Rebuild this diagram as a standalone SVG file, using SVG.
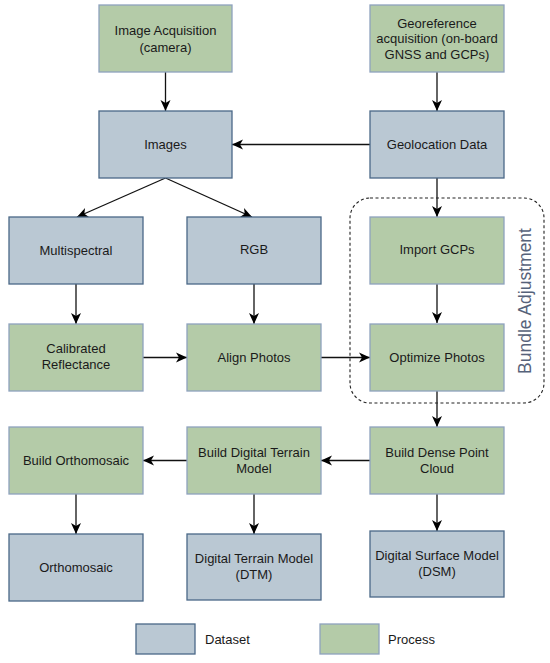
<svg xmlns="http://www.w3.org/2000/svg" width="550" height="663" viewBox="0 0 550 663">
<defs>
<style>
.ds{fill:#bac8d3;stroke:#4a6887;stroke-width:1.3}
.pr{fill:#b4cba8;stroke:#8ea2bd;stroke-width:1.3}
.t{font-family:"Liberation Sans",Arial,sans-serif;font-size:13px;fill:#1a1a1a;text-anchor:middle}
.tl{font-family:"Liberation Sans",Arial,sans-serif;font-size:13px;fill:#1a1a1a}
.c{stroke:#111;stroke-width:1.3;fill:none;marker-end:url(#ah)}
</style>
<marker id="ah" markerWidth="12" markerHeight="12" viewBox="0 0 12 12" refX="11" refY="6" orient="auto" markerUnits="userSpaceOnUse">
<path d="M0,1 L11,6 L0,11 L3,6 Z" fill="#000"/>
</marker>
</defs>
<rect width="550" height="663" fill="#fff"/>
<g id="connectors">
<line class="c" x1="165.5" y1="72" x2="165.5" y2="111"/>
<line class="c" x1="437" y1="72" x2="437" y2="111"/>
<line class="c" x1="370" y1="144.5" x2="232" y2="144.5"/>
<line class="c" x1="165.5" y1="178" x2="77" y2="217"/>
<line class="c" x1="165.5" y1="178" x2="252" y2="217"/>
<line class="c" x1="76" y1="284" x2="76" y2="324"/>
<line class="c" x1="254" y1="284" x2="254" y2="324"/>
<line class="c" x1="143" y1="357.5" x2="187" y2="357.5"/>
<line class="c" x1="321" y1="357.5" x2="370" y2="357.5"/>
<line class="c" x1="437" y1="178" x2="437" y2="217"/>
<line class="c" x1="437" y1="284" x2="437" y2="323"/>
<line class="c" x1="437" y1="391" x2="437" y2="427"/>
<line class="c" x1="370" y1="460.5" x2="321" y2="460.5"/>
<line class="c" x1="187" y1="460.5" x2="143" y2="460.5"/>
<line class="c" x1="76" y1="494" x2="76" y2="534"/>
<line class="c" x1="254" y1="494" x2="254" y2="534"/>
<line class="c" x1="437" y1="494" x2="437" y2="531"/>
</g>
<g id="bundle-adjustment">
<rect x="350" y="198" width="194" height="205" rx="20" ry="20" fill="none" stroke="#222" stroke-width="1.1" stroke-dasharray="3 2.5"/>
<text transform="translate(531,301) rotate(-90)" x="0" y="0" font-family="Liberation Sans, Arial, sans-serif" font-size="17.5" fill="#56627a" text-anchor="middle">Bundle Adjustment</text>
</g>
<g id="image-acquisition">
<rect class="pr" x="99" y="5" width="133" height="67"/>
<text class="t" x="165.5" y="35">Image Acquisition</text>
<text class="t" x="165.5" y="51.5">(camera)</text>
</g>
<g id="georeference">
<rect class="pr" x="370" y="5" width="134" height="67"/>
<text class="t" x="437" y="27.5">Georeference</text>
<text class="t" x="437" y="43">acquisition (on-board</text>
<text class="t" x="437" y="58.5">GNSS and GCPs)</text>
</g>
<g id="images">
<rect class="ds" x="99" y="111" width="133" height="67"/>
<text class="t" x="165.5" y="149">Images</text>
</g>
<g id="geolocation">
<rect class="ds" x="370" y="111" width="134" height="67"/>
<text class="t" x="437" y="149">Geolocation Data</text>
</g>
<g id="multispectral">
<rect class="ds" x="9" y="217" width="134" height="67"/>
<text class="t" x="76" y="255">Multispectral</text>
</g>
<g id="rgb">
<rect class="ds" x="187" y="217" width="134" height="67"/>
<text class="t" x="254" y="254">RGB</text>
</g>
<g id="import-gcps">
<rect class="pr" x="370" y="217" width="134" height="67"/>
<text class="t" x="437" y="254">Import GCPs</text>
</g>
<g id="calibrated">
<rect class="pr" x="9" y="324" width="134" height="67"/>
<text class="t" x="76" y="353">Calibrated</text>
<text class="t" x="76" y="369">Reflectance</text>
</g>
<g id="align-photos">
<rect class="pr" x="187" y="324" width="134" height="67"/>
<text class="t" x="254" y="362">Align Photos</text>
</g>
<g id="optimize-photos">
<rect class="pr" x="370" y="324" width="134" height="67"/>
<text class="t" x="437" y="362">Optimize Photos</text>
</g>
<g id="build-orthomosaic">
<rect class="pr" x="9" y="427" width="134" height="67"/>
<text class="t" x="76" y="465">Build Orthomosaic</text>
</g>
<g id="build-dtm">
<rect class="pr" x="187" y="427" width="134" height="67"/>
<text class="t" x="254" y="457">Build Digital Terrain</text>
<text class="t" x="254" y="473">Model</text>
</g>
<g id="build-dense">
<rect class="pr" x="370" y="427" width="134" height="67"/>
<text class="t" x="437" y="457">Build Dense Point</text>
<text class="t" x="437" y="473">Cloud</text>
</g>
<g id="orthomosaic">
<rect class="ds" x="9" y="534" width="134" height="67"/>
<text class="t" x="76" y="572">Orthomosaic</text>
</g>
<g id="dtm">
<rect class="ds" x="187" y="534" width="134" height="66"/>
<text class="t" x="254" y="563">Digital Terrain Model</text>
<text class="t" x="254" y="579">(DTM)</text>
</g>
<g id="dsm">
<rect class="ds" x="370" y="531" width="134" height="66"/>
<text class="t" x="437" y="560">Digital Surface Model</text>
<text class="t" x="437" y="576">(DSM)</text>
</g>
<g id="legend-dataset">
<rect class="ds" x="136" y="624" width="59" height="30"/>
<text class="tl" x="205" y="643.5">Dataset</text>
</g>
<g id="legend-process">
<rect class="pr" x="320" y="624" width="59" height="30"/>
<text class="tl" x="388" y="643.5">Process</text>
</g>
</svg>
